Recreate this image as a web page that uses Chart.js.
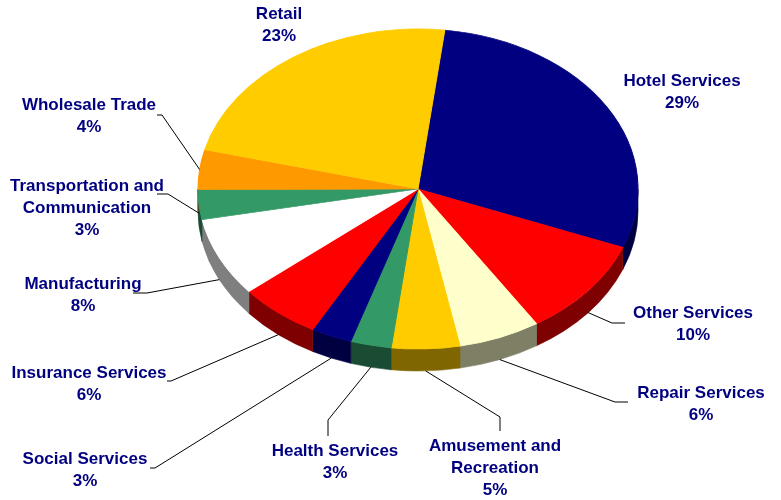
<!DOCTYPE html>
<html>
<head>
<meta charset="utf-8">
<script src="https://cdn.jsdelivr.net/npm/chart.js@4/dist/chart.umd.min.js"></script>
<style>
  html, body { margin: 0; padding: 0; background: #fff; }
</style>
</head>
<body>
<canvas id="chart" width="781" height="500"></canvas>
<script>
// Share of businesses by sector (%), clockwise from the top
const categories = ['Hotel Services', 'Other Services', 'Repair Services', 'Amusement and Recreation',
  'Health Services', 'Social Services', 'Insurance Services', 'Manufacturing',
  'Transportation and Communication', 'Wholesale Trade', 'Retail'];
const shares = [29, 10, 6, 5, 3, 3, 6, 8, 3, 4, 23];
const sliceColors = ['#000080', '#FF0000', '#FFFFCC', '#FFCC00', '#339966', '#000080',
  '#FF0000', '#FFFFFF', '#339966', '#FF9900', '#FFCC00'];
// how each category name is broken over lines in its label
const labelLines = [['Hotel Services'], ['Other Services'], ['Repair Services'], ['Amusement and', 'Recreation'],
  ['Health Services'], ['Social Services'], ['Insurance Services'], ['Manufacturing'],
  ['Transportation and', 'Communication'], ['Wholesale Trade'], ['Retail']];

// tilted pie geometry (screen px)
const PIE = { cx: 418, cy: 189, rx: 220, ry: 160, depth: 22 };
// label block centre (x, first line y) and leader elbow/end points
const labelLayout = [
  { x: 682, y: 81 },
  { x: 693, y: 313, elbow: [612, 323], end: [625, 323] },
  { x: 701, y: 393, elbow: [615, 402], end: [628, 402] },
  { x: 495, y: 446, elbow: [500, 417], end: [500, 431] },
  { x: 335, y: 451, elbow: [328, 420], end: [328, 436] },
  { x: 85, y: 459, elbow: [155, 468], end: [150, 468] },
  { x: 89, y: 373, elbow: [171, 381], end: [167, 381] },
  { x: 83, y: 284, elbow: [147, 293], end: [133, 293] },
  { x: 87, y: 186, elbow: [168, 194], end: [157, 194] },
  { x: 89, y: 105, elbow: [162, 115], end: [157, 115] },
  { x: 279, y: 14 }
];

function darker(hex) {
  const n = parseInt(hex.slice(1), 16);
  const r = (n >> 16) >> 1, g = ((n >> 8) & 255) >> 1, b = (n & 255) >> 1;
  return `rgb(${r},${g},${b})`;
}

const pie3d = {
  id: 'pie3d',
  beforeDatasetsDraw(chart) {
    const ctx = chart.ctx;
    const arcs = chart.getDatasetMeta(0).data;
    // side walls on the front half
    arcs.forEach((arc, i) => {
      [-2 * Math.PI, 0, 2 * Math.PI].forEach(shift => {
        const s = Math.max(arc.startAngle + shift, 0);
        const e = Math.min(arc.endAngle + shift, Math.PI);
        if (e <= s) return;
        ctx.beginPath();
        ctx.ellipse(PIE.cx, PIE.cy, PIE.rx, PIE.ry, 0, s, e);
        ctx.ellipse(PIE.cx, PIE.cy + PIE.depth, PIE.rx, PIE.ry, 0, e, s, true);
        ctx.closePath();
        ctx.fillStyle = darker(sliceColors[i]);
        ctx.strokeStyle = ctx.fillStyle;
        ctx.lineWidth = 0.6;
        ctx.fill();
        ctx.stroke();
      });
    });
    // squash the round pie into the tilted top face
    const a0 = arcs[0];
    ctx.save();
    ctx.translate(PIE.cx, PIE.cy);
    ctx.scale(PIE.rx / a0.outerRadius, PIE.ry / a0.outerRadius);
    ctx.translate(-a0.x, -a0.y);
  },
  afterDatasetsDraw(chart) {
    chart.ctx.restore();
  },
  afterDraw(chart) {
    const ctx = chart.ctx;
    const arcs = chart.getDatasetMeta(0).data;
    ctx.save();
    arcs.forEach((arc, i) => {
      const lay = labelLayout[i];
      if (lay.elbow) {
        const mid = (arc.startAngle + arc.endAngle) / 2;
        const sn = Math.sin(mid);
        const ax = PIE.cx + PIE.rx * Math.cos(mid);
        const ay = PIE.cy + PIE.ry * sn + (sn > 0 ? PIE.depth * Math.min(1, 4 * sn) : 0);
        ctx.beginPath();
        ctx.moveTo(ax, ay);
        ctx.lineTo(lay.elbow[0], lay.elbow[1]);
        ctx.lineTo(lay.end[0], lay.end[1]);
        ctx.strokeStyle = '#000';
        ctx.lineWidth = 1;
        ctx.stroke();
      }
      const lines = labelLines[i].concat([shares[i] + '%']);
      ctx.fillStyle = '#000080';
      ctx.font = 'bold 17px "Liberation Sans", Arial, sans-serif';
      ctx.textAlign = 'center';
      ctx.textBaseline = 'middle';
      lines.forEach((t, k) => ctx.fillText(t, lay.x, lay.y + k * 22));
    });
    ctx.restore();
  }
};

new Chart(document.getElementById('chart').getContext('2d'), {
  type: 'pie',
  data: {
    labels: categories,
    datasets: [{
      data: shares,
      backgroundColor: sliceColors,
      borderColor: sliceColors,
      borderWidth: 1,
      clip: false
    }]
  },
  options: {
    responsive: false,
    animation: false,
    events: [],
    rotation: 7,
    layout: { padding: { left: 198, right: 143, top: 0, bottom: 60 } },
    plugins: {
      legend: { display: false },
      tooltip: { enabled: false }
    }
  },
  plugins: [pie3d]
});
</script>
</body>
</html>
